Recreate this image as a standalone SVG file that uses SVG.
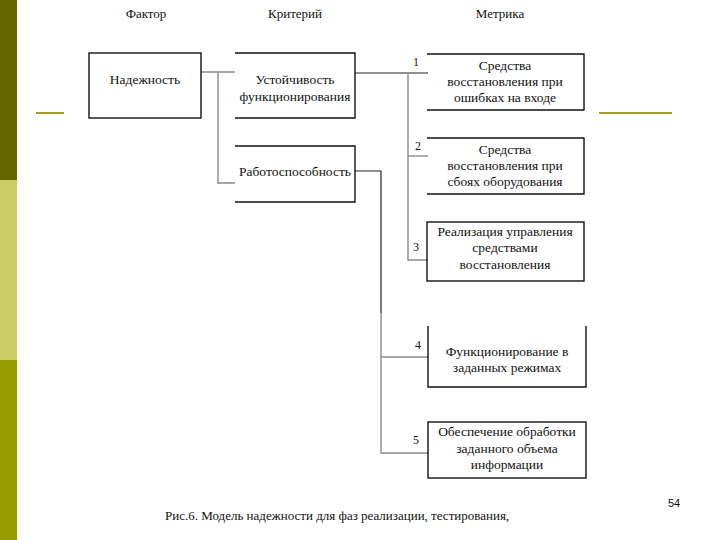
<svg xmlns="http://www.w3.org/2000/svg" width="720" height="540" viewBox="0 0 720 540">
<style>
text{fill:#111;font-family:'Liberation Serif','Times New Roman','DejaVu Serif',Times,serif;}
.t{font-size:13.5px;text-anchor:middle;}
.h{font-size:13px;text-anchor:middle;}
.n{font-size:12px;text-anchor:middle;}
.b{fill:none;stroke:#111;stroke-width:1.4;}
.c{fill:none;stroke:#8a8a8a;stroke-width:1.4;}
.k{fill:none;stroke:#222;stroke-width:1.2;}
.p{font-family:'Liberation Sans',Arial,sans-serif;font-size:11px;}
</style>
<rect width="720" height="540" fill="#fff"/>
<rect x="0" y="0" width="17" height="180" fill="#666600"/>
<rect x="0" y="180" width="17" height="180" fill="#cccc66"/>
<rect x="0" y="360" width="17" height="180" fill="#999900"/>
<line x1="36" y1="113" x2="64" y2="113" stroke="#a09a30" stroke-width="2"/>
<line x1="599" y1="113" x2="672" y2="113" stroke="#a09a30" stroke-width="2"/>
<text class="h" x="146" y="18">Фактор</text>
<text class="h" x="295" y="18">Критерий</text>
<text class="h" x="500" y="18">Метрика</text>
<g id="connectors">
<polyline class="c" points="201,72 235,72"/>
<polyline class="c" points="218,72 218,183 235,183"/>
<polyline class="k" points="355,73 428,73"/>
<polyline class="c" points="408,73 408,260 428,260"/>
<polyline class="c" points="408,156 428,156"/>
<polyline class="k" points="355,171 381,171 381,313"/>
<polyline class="c" points="381,313 381,453 428,453"/>
<polyline class="c" points="381,357 428,357"/>
</g>
<g id="n-nadezhnost">
<rect class="b" x="89" y="53" width="112" height="65"/>
<text class="t" x="145" y="84">Надежность</text>
</g>
<g id="n-ustoich">
<polyline class="b" points="235,53 355,53 355,118 235,118"/>
<text class="t" x="295" y="84">Устойчивость</text>
<text class="t" x="295" y="101">функционирования</text>
</g>
<g id="n-rabotosp">
<polyline class="b" points="235,146 355,146 355,202 235,202"/>
<text class="t" x="295" y="176">Работоспособность</text>
</g>
<g id="m1">
<polyline class="b" points="427,54 584,54 584,110 427,110"/>
<text class="t" x="505" y="70">Средства</text>
<text class="t" x="505" y="86">восстановления при</text>
<text class="t" x="505" y="102">ошибках на входе</text>
<text class="n" x="416" y="66">1</text>
</g>
<g id="m2">
<polyline class="b" points="427,138 584,138 584,194 427,194"/>
<text class="t" x="505" y="154">Средства</text>
<text class="t" x="505" y="170">восстановления при</text>
<text class="t" x="505" y="186">сбоях оборудования</text>
<text class="n" x="418" y="150">2</text>
</g>
<g id="m3">
<rect class="b" x="427" y="222" width="157" height="59"/>
<text class="t" x="505" y="236">Реализация управления</text>
<text class="t" x="505" y="252">средствами</text>
<text class="t" x="505" y="269">восстановления</text>
<text class="n" x="416" y="251">3</text>
</g>
<g id="m4">
<polyline class="b" points="428,326 428,387 586,387 586,326"/>
<text class="t" x="507" y="356">Функционирование в</text>
<text class="t" x="507" y="372">заданных режимах</text>
<text class="n" x="418" y="349">4</text>
</g>
<g id="m5">
<rect class="b" x="428" y="422" width="158" height="56"/>
<text class="t" x="507" y="436">Обеспечение обработки</text>
<text class="t" x="507" y="453">заданного объема</text>
<text class="t" x="507" y="469">информации</text>
<text class="n" x="416" y="444">5</text>
</g>
<text x="165" y="520" font-size="13">Рис.6. Модель надежности для фаз реализации, тестирования,</text>
<text class="p" x="668" y="507">54</text>
</svg>
